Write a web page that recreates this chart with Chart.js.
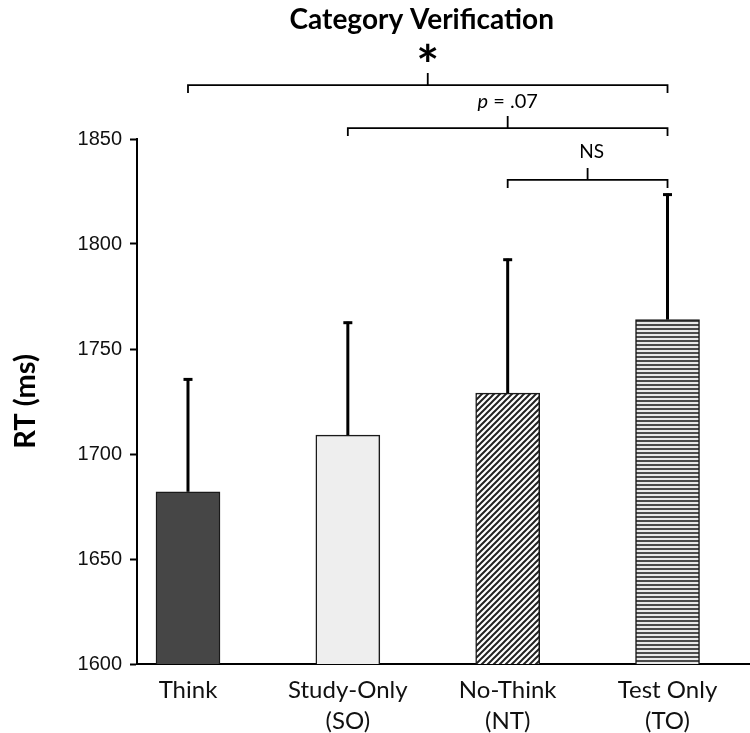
<!DOCTYPE html>
<html>
<head>
<meta charset="utf-8">
<script src="https://cdn.jsdelivr.net/npm/chart.js@4/dist/chart.umd.min.js"></script>
<style>
  html, body { margin: 0; padding: 0; background: #fff; }
  #wrap { width: 750px; height: 733px; }
</style>
</head>
<body>
<div id="wrap"><canvas id="chart"></canvas></div>
<script>
// Data
const CATEGORIES = [['Think'], ['Study-Only', '(SO)'], ['No-Think', '(NT)'], ['Test Only', '(TO)']];
const POSITIONS = [1, 2, 3, 4];
const RT_MEANS = [1682, 1709, 1729, 1764];
const RT_ERR_TOPS = [1736, 1763, 1793, 1824];
const Y_TICKS = [1600, 1650, 1700, 1750, 1800, 1850];
// Significance comparisons: [from, to], label, level (ms)
const SIG_PAIRS = [[1, 4], [2, 4], [3, 4]];
const SIG_LABELS = ['*', 'p = .07', 'NS'];
const SIG_LEVELS = [1875.7, 1855.2, 1830.5];

const TEXT_FONT = 'Lato, "Open Sans", sans-serif';

// Fill patterns
function makeDiagonalPattern() {
    const s = 6;
    const c = document.createElement('canvas');
    c.width = s; c.height = s;
    const g = c.getContext('2d');
    g.fillStyle = '#fff';
    g.fillRect(0, 0, s, s);
    g.strokeStyle = '#222';
    g.lineWidth = 2;
    g.beginPath();
    g.moveTo(0, s); g.lineTo(s, 0);
    g.moveTo(-s / 2, s / 2); g.lineTo(s / 2, -s / 2);
    g.moveTo(s / 2, s + s / 2); g.lineTo(s + s / 2, s / 2);
    g.stroke();
    return g.createPattern(c, 'repeat');
}
function makeStripePattern() {
    const c = document.createElement('canvas');
    c.width = 4; c.height = 4;
    const g = c.getContext('2d');
    g.fillStyle = '#e8e8e8';
    g.fillRect(0, 0, 4, 4);
    g.fillStyle = '#4a4a4a';
    g.fillRect(0, 0, 4, 2);
    return g.createPattern(c, 'repeat');
}

// Error bars and significance brackets
const annotatePlugin = {
    id: 'annotate',
    afterDatasetsDraw(chart) {
        const ctx = chart.ctx;
        const xs = chart.scales.x;
        const ys = chart.scales.y;
        const meta = chart.getDatasetMeta(0);
        ctx.save();
        ctx.strokeStyle = '#000';
        ctx.lineCap = 'butt';
        meta.data.forEach((bar, i) => {
            const top = ys.getPixelForValue(RT_ERR_TOPS[i]);
            ctx.lineWidth = 3;
            ctx.beginPath();
            ctx.moveTo(bar.x, bar.y);
            ctx.lineTo(bar.x, top);
            ctx.stroke();
            ctx.beginPath();
            ctx.moveTo(bar.x - 4.5, top + 1);
            ctx.lineTo(bar.x + 4.5, top + 1);
            ctx.stroke();
        });
        // brackets
        ctx.lineWidth = 1.8;
        SIG_PAIRS.forEach((pair, i) => {
            const x1 = xs.getPixelForValue(pair[0]);
            const x2 = xs.getPixelForValue(pair[1]);
            const y = ys.getPixelForValue(SIG_LEVELS[i]);
            const xm = (x1 + x2) / 2;
            ctx.beginPath();
            ctx.moveTo(x1, y + 8);
            ctx.lineTo(x1, y);
            ctx.lineTo(x2, y);
            ctx.lineTo(x2, y + 8);
            ctx.moveTo(xm, y);
            ctx.lineTo(xm, y - 12);
            ctx.stroke();
            ctx.fillStyle = '#000';
            ctx.textBaseline = 'middle';
            if (SIG_LABELS[i] === '*') {
                ctx.font = 'bold 54px ' + TEXT_FONT;
                ctx.textAlign = 'center';
                ctx.fillText('*', xm, y - 18);
            } else if (SIG_LABELS[i].startsWith('p')) {
                ctx.font = 'italic 20px ' + TEXT_FONT;
                const wp = ctx.measureText('p').width;
                ctx.font = '20px ' + TEXT_FONT;
                const rest = SIG_LABELS[i].slice(1);
                const wr = ctx.measureText(rest).width;
                const start = xm - (wp + wr) / 2;
                ctx.textAlign = 'left';
                ctx.font = 'italic 20px ' + TEXT_FONT;
                ctx.fillText('p', start, y - 27);
                ctx.font = '20px ' + TEXT_FONT;
                ctx.fillText(rest, start + wp, y - 27);
            } else {
                ctx.font = '19px ' + TEXT_FONT;
                ctx.textAlign = 'center';
                ctx.fillText(SIG_LABELS[i], xm + 4, y - 28);
            }
        });
        // title
        ctx.font = 'bold 28px ' + TEXT_FONT;
        ctx.textAlign = 'center';
        ctx.textBaseline = 'middle';
        ctx.fillText('Category Verification', (xs.getPixelForValue(1) + xs.getPixelForValue(4)) / 2 - 6, 20);
        ctx.restore();
    }
};

function createChart() {
    const ctx = document.getElementById('chart').getContext('2d');
    const points = POSITIONS.map((p, i) => ({ x: p, y: RT_MEANS[i] }));
    // @ts-ignore
    new Chart(ctx, {
        type: 'bar',
        data: {
            datasets: [{
                data: points,
                backgroundColor: ['#464646', '#eeeeee', makeDiagonalPattern(), makeStripePattern()],
                borderColor: '#1a1a1a',
                borderWidth: 1.5,
                barThickness: 64
            }]
        },
        options: {
            responsive: true,
            maintainAspectRatio: false,
            animation: false,
            layout: { padding: { top: 139, left: 0, right: 0, bottom: 0 } },
            plugins: {
                legend: { display: false },
                tooltip: { enabled: false }
            },
            scales: {
                x: {
                    type: 'linear',
                    offset: false,
                    min: 0.681,
                    max: 4.516,
                    afterBuildTicks: (scale) => { scale.ticks = POSITIONS.map(v => ({ value: v })); },
                    afterFit: (scale) => { scale.height = 69; },
                    grid: { display: false },
                    border: { display: true, color: '#000', width: 2 },
                    ticks: {
                        autoSkip: false,
                        maxRotation: 0,
                        padding: 3,
                        color: '#111',
                        font: { family: TEXT_FONT, size: 24, lineHeight: 1.28 },
                        callback: (v) => CATEGORIES[POSITIONS.indexOf(v)] || ''
                    }
                },
                y: {
                    min: 1600,
                    max: 1850,
                    afterBuildTicks: (scale) => { scale.ticks = Y_TICKS.map(v => ({ value: v })); },
                    afterFit: (scale) => { scale.width = 137; },
                    grid: { drawOnChartArea: false, tickLength: 7, tickColor: '#000', tickWidth: 2 },
                    border: { display: true, color: '#000', width: 2 },
                    ticks: {
                        padding: 8,
                        color: '#111',
                        font: { family: '"Liberation Sans", Arial, sans-serif', size: 20 },
                        callback: (v) => String(v)
                    },
                    title: {
                        display: true,
                        text: 'RT (ms)',
                        color: '#000',
                        padding: { top: 8, bottom: 0 },
                        font: { family: TEXT_FONT, size: 29, weight: 'bold' }
                    }
                }
            }
        },
        plugins: [annotatePlugin]
    });
}

window.onload = createChart;
</script>
</body>
</html>
